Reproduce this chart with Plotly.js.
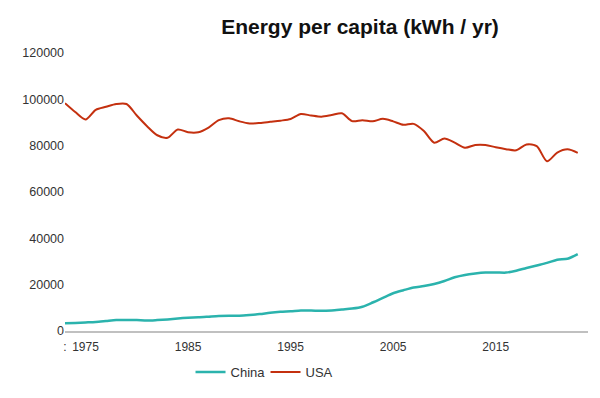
<!DOCTYPE html>
<html>
<head>
<meta charset="utf-8">
<script src="https://cdn.plot.ly/plotly-3.0.1.min.js"></script>
<style>html,body{margin:0;padding:0;background:#fff;}#chart{width:600px;height:398px;}</style>
</head>
<body>
<div id="chart"></div>
<script>
const years = [1973,1974,1975,1976,1977,1978,1979,1980,1981,1982,1983,1984,1985,1986,1987,1988,1989,1990,1991,1992,1993,1994,1995,1996,1997,1998,1999,2000,2001,2002,2003,2004,2005,2006,2007,2008,2009,2010,2011,2012,2013,2014,2015,2016,2017,2018,2019,2020,2021,2022,2023];
const china = [3300,3500,3700,3900,4300,4700,4800,4700,4500,4700,5000,5400,5700,5900,6200,6500,6600,6600,6900,7300,7900,8300,8500,8800,8800,8700,8900,9300,9700,10500,12300,14300,16300,17600,18800,19400,20300,21600,23200,24200,24800,25200,25300,25200,26000,27200,28300,29400,30800,31200,33200];
const usa = [98300,94500,91300,95500,96800,98000,98000,93000,88400,84500,83400,87000,85800,85800,87800,91000,91800,90500,89600,89800,90300,90800,91500,93700,93000,92500,93200,94000,90600,91000,90500,91600,90500,89000,89400,86300,81300,83100,81300,79100,80300,80300,79300,78500,78000,80500,79800,73300,77000,78400,76900];
const tickYears = [1973,1975,1985,1995,2005,2015];
const tickLabels = [":","1975","1985","1995","2005","2015"];
const titleText = "Energy per capita (kWh / yr)";

const traces = [
  {x: years, y: china, name: "China", type: "scatter", mode: "lines",
   line: {color: "#2bb3ad", width: 2.5, shape: "spline", smoothing: 0.8}},
  {x: years, y: usa, name: "USA", type: "scatter", mode: "lines",
   line: {color: "#c4300f", width: 2, shape: "spline", smoothing: 0.8}}
];

const layout = {
  width: 600, height: 398,
  margin: {l: 65, r: 12, t: 53, b: 67, autoexpand: false},
  paper_bgcolor: "#fff", plot_bgcolor: "#fff",
  font: {family: "Liberation Sans, Arial, sans-serif", size: 12, color: "#333"},
  title: {text: titleText, x: 0.6, xanchor: "center", y: 0.932, yanchor: "middle",
          font: {family: "Liberation Sans, sans-serif", size: 21, color: "#111", weight: "bold"}},
  xaxis: {range: [1973, 2024], tickmode: "array", tickvals: tickYears, ticktext: tickLabels,
          showgrid: false, zeroline: false, showline: true, linecolor: "#c0c0c0", linewidth: 1.5,
          ticks: "", ticklen: 0, ticklabelstandoff: 4, tickfont: {size: 12, color: "#333"}},
  yaxis: {range: [0, 120000], dtick: 20000, tickformat: "d", showgrid: false, zeroline: false,
          showline: false, ticks: "", tickfont: {size: 12.5, color: "#333"}},
  showlegend: true,
  legend: {orientation: "h", x: 0.24, xanchor: "left", yref: "container", y: 0.065, yanchor: "middle",
           entrywidth: 30, entrywidthmode: "pixels",
           font: {size: 13, color: "#333"}, bgcolor: "rgba(0,0,0,0)"}
};

Plotly.newPlot("chart", traces, layout, {displayModeBar: false, staticPlot: true});
</script>
</body>
</html>
